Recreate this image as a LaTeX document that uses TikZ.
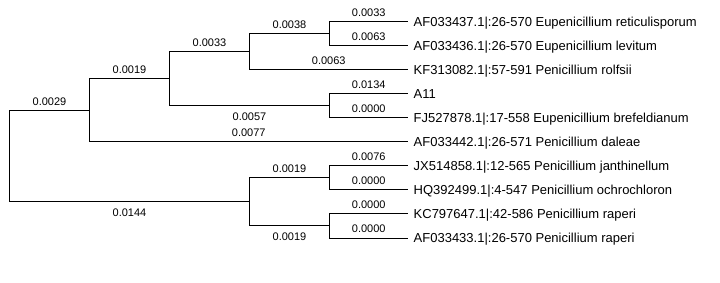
\documentclass[tikz,border=0pt]{standalone}
\usepackage{fontspec}
\setmainfont{Liberation Sans}
\usetikzlibrary{positioning}
\tikzset{
  branch/.style={draw=black, line width=1pt},
  taxon/.style={anchor=base west, inner sep=0pt, xshift=5.5pt, yshift=-4.6pt,
                font=\fontsize{13}{15}\selectfont},
  blen/.style={inner sep=0pt, font=\fontsize{11}{13}\selectfont},
}

\begin{document}
\begin{tikzpicture}[x=1pt, y=-1pt]
  \useasboundingbox (0,0) rectangle (720,283);

  % internal nodes
  \coordinate (root) at (9.5,156.25);
  \coordinate (n1) at (89.5,110.5);
  \coordinate (n2) at (169.5,79);
  \coordinate (n3) at (249.5,52);
  \coordinate (n4) at (329.5,34);
  \coordinate (n5) at (329.5,106);
  \coordinate (n6) at (249.5,202);
  \coordinate (n7) at (329.5,178);
  \coordinate (n8) at (329.5,226);

  % leaf tips and names
  \foreach \i/\name [evaluate=\i as \y using 22+24*(\i-1)] in {
      1/AF033437.1|:26-570 Eupenicillium reticulisporum,
      2/AF033436.1|:26-570 Eupenicillium levitum,
      3/KF313082.1|:57-591 Penicillium rolfsii,
      4/A11,
      5/FJ527878.1|:17-558 Eupenicillium brefeldianum,
      6/AF033442.1|:26-571 Penicillium daleae,
      7/JX514858.1|:12-565 Penicillium janthinellum,
      8/HQ392499.1|:4-547 Penicillium ochrochloron,
      9/KC797647.1|:42-586 Penicillium raperi,
      10/AF033433.1|:26-570 Penicillium raperi} {
    \coordinate (t\i) at (408,\y);
    \node[taxon] (l\i) at (t\i) {\name};
  }

  % branches with lengths
  \foreach \from/\to/\len/\anc/\dy in {
      root/n1/0.0029/south/4.5pt, root/n6/0.0144/north/-6pt,
      n1/n2/0.0019/south/4.5pt, n1/t6/0.0077/south/4.5pt,
      n2/n3/0.0033/south/4.5pt, n2/n5/0.0057/north/-6pt,
      n3/n4/0.0038/south/4.5pt, n3/t3/0.0063/south/4.5pt,
      n4/t1/0.0033/south/4.5pt, n4/t2/0.0063/south/4.5pt,
      n5/t4/0.0134/south/4.5pt, n5/t5/0.0000/south/4.5pt,
      n6/n7/0.0019/south/4.5pt, n6/n8/0.0019/north/-6pt,
      n7/t7/0.0076/south/4.5pt, n7/t8/0.0000/south/4.5pt,
      n8/t9/0.0000/south/4.5pt, n8/t10/0.0000/south/4.5pt}
    \draw[branch] (\from) |- node[blen, pos=0.75, anchor=\anc, yshift=\dy] {\len} (\to);
\end{tikzpicture}
\end{document}
